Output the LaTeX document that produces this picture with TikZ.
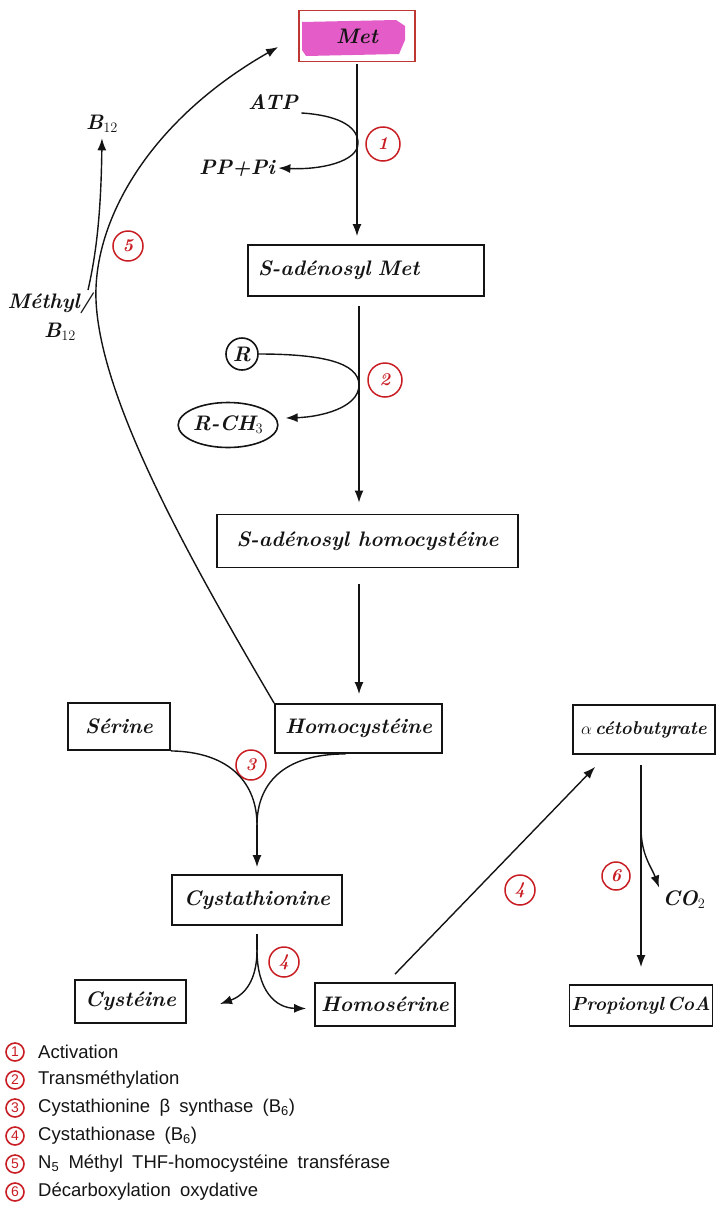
\documentclass[tikz,border=0pt]{standalone}
\usepackage{fontspec}
\newfontfamily\legendfont[WordSpace=1.8]{Liberation Sans}
\usetikzlibrary{arrows.meta,calc,shapes.geometric}
\definecolor{stepred}{RGB}{200,30,35}
\definecolor{metframe}{RGB}{190,55,50}
\definecolor{metpink}{RGB}{228,92,200}
\definecolor{ink}{RGB}{20,20,20}
\newcommand\legentry[1]{\ifcase#1\or Activation\or Transméthylation\or Cystathionine β synthase (B\textsubscript{6})\or Cystathionase (B\textsubscript{6})\or N\textsubscript{5} Méthyl THF-homocystéine transférase\or Décarboxylation oxydative\fi}
\tikzset{
  hand/.style={font=\fontsize{21}{24}\selectfont\bfseries\itshape, text=ink},
  mbox/.style={draw=ink, line width=1.8pt, hand, inner sep=4pt},
  arr/.style={draw=ink, line width=1.4pt, -{Latex[length=12pt,width=9pt]}},
  link/.style={draw=ink, line width=1.4pt},
  stepnum/.style={circle, draw=stepred, line width=1.5pt, text=stepred, minimum size=30pt, inner sep=0pt, font=\fontsize{18}{18}\selectfont\bfseries\itshape},
  legnum/.style={circle, draw=stepred, line width=1.6pt, text=stepred, minimum size=18pt, inner sep=0pt, font=\legendfont\fontsize{14}{14}\selectfont},
  legtext/.style={anchor=west, font=\legendfont\fontsize{18.5}{20}\selectfont, text=ink, inner sep=0pt},
}
\begin{document}
\begin{tikzpicture}[x=1pt,y=-1pt]
\useasboundingbox (0,0) rectangle (726,1205);

% highlighted methionine box
\fill[metpink] (302,22) -- (396,20) -- (405,26) -- (405,40) -- (399,54) -- (306,56) -- (302,50) -- cycle;
\node[mbox, draw=metframe, minimum width=116pt, minimum height=51pt] (met) at (357,36) {Met};

% main boxes
\node[mbox, inner xsep=10pt, text width=216pt, align=left, minimum height=51pt] (sam) at (366,270.5) {S-adénosyl Met};
\node[mbox, minimum width=301pt, minimum height=53pt] (sah) at (367.5,541) {S-adénosyl homocystéine};
\node[mbox, minimum width=167pt, minimum height=49pt] (hcy) at (358.5,728.5) {Homocystéine};
\node[mbox, minimum width=102pt, minimum height=47pt] (ser) at (119,726.5) {Sérine};
\node[mbox, minimum width=142pt, minimum height=49pt, inner xsep=2pt, font=\fontsize{18.5}{20}\selectfont\bfseries\itshape] (acb) at (644,729.5) {$\alpha$\,cétobutyrate};
\node[mbox, minimum width=170pt, minimum height=50pt] (cys) at (257,900) {Cystathionine};
\node[mbox, minimum width=111pt, minimum height=43pt] (cyst) at (130.5,1001.5) {Cystéine};
\node[mbox, minimum width=140pt, minimum height=43pt] (hse) at (385,1004.5) {Homosérine};
\node[mbox, minimum width=134pt, minimum height=41pt, inner xsep=2pt, font=\fontsize{19}{20}\selectfont\bfseries\itshape] (pcoa) at (641,1005.5) {Propionyl\,CoA};

% side substrates and products
\node[hand] (atp) at (273,102) {ATP};
\node[hand] (ppi) at (237,168) {PP+Pi};
\node[hand] (b12) at (102,124) {B$_{12}$};
\node[hand] (methyl) at (50,303) {Méthyl/};
\node[hand] (mb12) at (60,332) {B$_{12}$};
\node[hand] (co2) at (684,900) {CO$_2$};
\node[circle, draw=ink, line width=1.6pt, minimum size=32pt, inner sep=0pt, hand] (r) at (242,354) {R};
\node[ellipse, draw=ink, line width=1.6pt, minimum width=90pt, minimum height=45pt, inner sep=0pt, hand] (rch3) at (228,425) {R-CH$_3$};

% enzyme step markers
\node[stepnum, minimum size=34pt] (s1) at (383,144) {1};
\node[stepnum, minimum size=34pt] (s2) at (385,380) {2};
\node[stepnum] (s3) at (251,765) {3};
\node[stepnum] (s4a) at (284,962) {4};
\node[stepnum] (s4b) at (520,890) {4};
\node[stepnum] (s5) at (128,246) {5};
\node[stepnum, minimum size=28pt] (s6) at (616,876) {6};

% 1: activation
\coordinate (k1) at (358,143);
\draw[arr, shorten <=2pt, shorten >=8pt] (met.south) -- (met.south |- sam.north);
\draw[arr] (atp.south east) .. controls (335,115) and (358,125) .. (k1) .. controls (358,162) and (320,170) .. (ppi.east);

% 2: transmethylation
\coordinate (k2) at (359,385);
\draw[arr, shorten <=9pt, shorten >=11pt] (sam.south -| k2) -- (k2 |- sah.north);
\draw[arr] (r.east) .. controls (320,354) and (359,362) .. (k2) .. controls (359,408) and (320,417) .. ($(rch3.east)+(7,-7)$);
\draw[arr, shorten <=16pt, shorten >=9pt] (sah.south -| k2) -- (k2 |- hcy.north);

% 5: remethylation back to methionine
\coordinate (mslash) at (88,290);
\draw[arr] (hcy.north west) .. controls (190,560) and (100,400) .. (96,300) .. controls (93,220) and (150,120) .. ($(met.west)+(-20,11)$);
\draw[arr, shorten >=2pt] (mslash) .. controls (96,255) and (101,215) .. (b12.south);

% 3: condensation with serine
\coordinate (m3) at (257,825);
\draw[link] (ser.south east) .. controls (232,752) and (257,785) .. (m3);
\draw[link] ($(hcy.south)+(-13,0)$) .. controls (282,754) and (257,785) .. (m3);
\draw[arr, shorten >=7pt] (m3) -- (cys.north);

% 4: cleavage of cystathionine
\coordinate (m4) at (257,950);
\coordinate (cysteinetip) at (220,1004);
\draw[link, shorten <=8pt] (cys.south) -- (m4);
\draw[arr] (m4) .. controls (257,980) and (245,995) .. (cysteinetip);
\draw[arr] (m4) .. controls (257,990) and (275,1008) .. ($(hse.west)+(-8,4)$);
\draw[arr] ($(hse.north)+(10,-8)$) -- ($(acb.south west)+(23,12)$);

% 6: oxidative decarboxylation
\coordinate (k6) at (641,828);
\draw[arr, shorten <=10pt, shorten >=17pt] (pcoa.north |- acb.south) -- (pcoa.north);
\draw[arr] (k6) .. controls (641,855) and (652,868) .. (co2.north west);

% legend
\foreach \i in {1,...,6}{
  \node[legnum] (ln\i) at (15,{1052+28*(\i-1)}) {\i};
  \node[legtext] (lt\i) at (38,{1052+28*(\i-1)}) {\legentry{\i}};
}
\end{tikzpicture}
\end{document}
